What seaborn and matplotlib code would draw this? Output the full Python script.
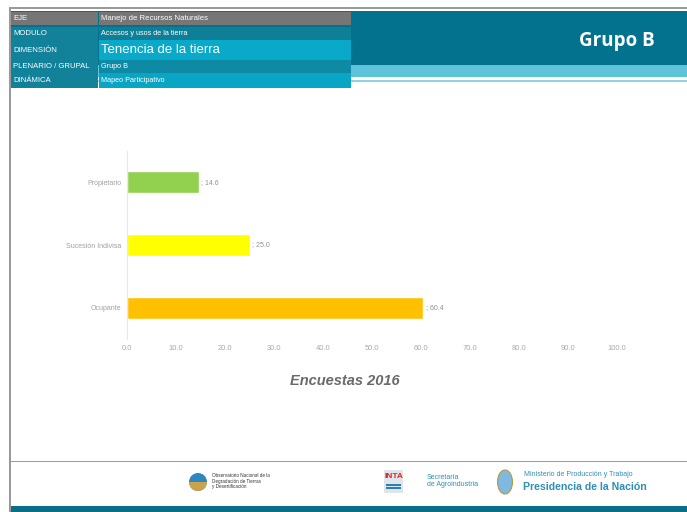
import matplotlib
matplotlib.use("Agg")
import matplotlib.pyplot as plt
import matplotlib.patches as mpatches
import seaborn as sns
import pandas as pd

categories = ["Propietario", "Sucesión Indivisa", "Ocupante"]
values = [14.6, 25.0, 60.4]
bar_colors = ["#92d050", "#ffff00", "#ffc000"]
x_ticks = [0, 10, 20, 30, 40, 50, 60, 70, 80, 90, 100]
axis_title = "Encuestas 2016"

table_labels = ["EJE", "MODULO", "DIMENSIÓN", "PLENARIO / GRUPAL", "DINÁMICA"]
table_values = ["Manejo de Recursos Naturales", "Accesos y usos de la tierra",
                "Tenencia de la tierra", "Grupo B", "Mapeo Participativo"]
header_title = "Grupo B"

sns.set_theme(style="white")
plt.rcParams['font.family'] = ['Liberation Sans', 'DejaVu Sans']

W, H = 687, 512
fig = plt.figure(figsize=(W / 100, H / 100), dpi=100)
fig.patch.set_facecolor("white")

# ---- decoration layer (slide frame) ----
deco = fig.add_axes([0, 0, 1, 1], zorder=0)
deco.set_xlim(0, W)
deco.set_ylim(H, 0)
deco.axis("off")

def rect(x0, y0, x1, y1, color, z=1):
    deco.add_patch(mpatches.Rectangle((x0, y0), x1 - x0, y1 - y0,
                                      facecolor=color, edgecolor="none", zorder=z))

# outer frame lines
rect(9, 6.5, W, 8.5, "#9a9a9a")
rect(9, 6.5, 11, H, "#9a9a9a")
# header bars
rect(11, 11, W, 65, "#03728f")
rect(11, 65, W, 77, "#5dc3d8")
rect(11, 80, W, 81.5, "#8fd2e0")
deco.text(655, 41, header_title, color="white", fontsize=13.5, fontweight="bold",
          family=["Open Sans", "DejaVu Sans"], ha="right", va="center", zorder=3)

# info table
rows = [(12, 25), (27, 40), (40, 60), (60, 73), (73, 88)]
left_cols = ["#767676", "#12829b", "#12829b", "#12829b", "#12829b"]
right_cols = ["#767676", "#0f7f98", "#08a9c9", "#0f8aa5", "#08a5c5"]
val_sizes = [5.6, 5.2, 9.5, 5.2, 5.2]
for (y0, y1), lc, rc, lab, val, fs in zip(rows, left_cols, right_cols,
                                         table_labels, table_values, val_sizes):
    rect(11, y0, 97.5, y1, lc, 2)
    rect(98.5, y0, 351, y1, rc, 2)
    ym = (y0 + y1) / 2
    deco.text(13, ym, lab, color="white", fontsize=5.6, ha="left", va="center", zorder=3)
    deco.text(101, ym, val, color="white", fontsize=fs, ha="left", va="center", zorder=3)

# footer
rect(11, 460.5, W, 461.5, "#7aaab2")
rect(11, 505.5, W, H, "#0a6f86")
deco.add_patch(mpatches.Circle((198, 482), 9, facecolor="#2e86c1", edgecolor="none", zorder=2))
deco.add_patch(mpatches.Wedge((198, 482), 9, 0, 180, facecolor="#c9a34a", edgecolor="none", zorder=2))
deco.text(212, 481, "Observatorio Nacional de la\nDegradación de Tierras\ny Desertificación",
          fontsize=3.3, color="#333333", ha="left", va="center", linespacing=1.2, zorder=3)
rect(384, 470, 403, 493, "#dfe6ea", 2)
deco.text(393.5, 477, "INTA", fontsize=6, fontweight="bold", color="#d62828",
          ha="center", va="center", zorder=3)
rect(386, 484, 401, 485.5, "#2a7fb8", 3)
rect(386, 487, 401, 488.5, "#2a7fb8", 3)
deco.text(427, 481, "Secretaría\nde Agroindustria", fontsize=5, color="#2f8fb5",
          ha="left", va="center", linespacing=1.1, zorder=3)
deco.add_patch(mpatches.Ellipse((505, 482), 15, 24, facecolor="#7fb8e0", edgecolor="#b89a3a",
                                lw=0.8, zorder=2))
deco.text(524, 475, "Ministerio de Producción y Trabajo", fontsize=5.0, color="#2f8fb5",
          ha="left", va="center", zorder=3)
deco.text(523, 487, "Presidencia de la Nación", fontsize=7.6, color="#2f8fb5",
          fontweight="bold", ha="left", va="center", zorder=3)

# ---- chart ----
left_px, right_px, top_px, bottom_px = 127, 617, 151, 339
ax = fig.add_axes([left_px / W, 1 - bottom_px / H,
                   (right_px - left_px) / W, (bottom_px - top_px) / H], zorder=2)
ax.patch.set_alpha(0)

df = pd.DataFrame({"cat": categories, "val": values})
sns.barplot(data=df, x="val", y="cat", hue="cat", palette=bar_colors,
            orient="h", width=0.35, legend=False, ax=ax, saturation=1)

ax.set_xlim(0, 100)
ax.set_xticks(x_ticks)
ax.set_xticklabels([f"{t:.1f}" for t in x_ticks])
ax.tick_params(axis="x", labelsize=5.4, colors="#a8a8a8", length=0, pad=4)
ax.tick_params(axis="y", labelsize=5.0, colors="#a0a0a0", length=0, pad=4)
ax.set_ylabel("")
ax.set_xlabel(axis_title, fontsize=10.5, fontweight="bold", style="italic",
              color="#6a6a6a")
ax.xaxis.set_label_coords((345 - left_px) / (right_px - left_px),
                          (bottom_px - 381) / (bottom_px - top_px))
ax.xaxis.label.set_va("center")
for s in ["top", "right", "bottom"]:
    ax.spines[s].set_visible(False)
ax.spines["left"].set_color("#e8e8e8")
ax.spines["left"].set_linewidth(0.8)
ax.grid(False)

for cont in ax.containers:
    ax.bar_label(cont, labels=[f"; {v:.1f}" for v in cont.datavalues],
                 fontsize=5.0, color="#909090", padding=2)

fig.savefig("out.png", dpi=100, facecolor="white")
